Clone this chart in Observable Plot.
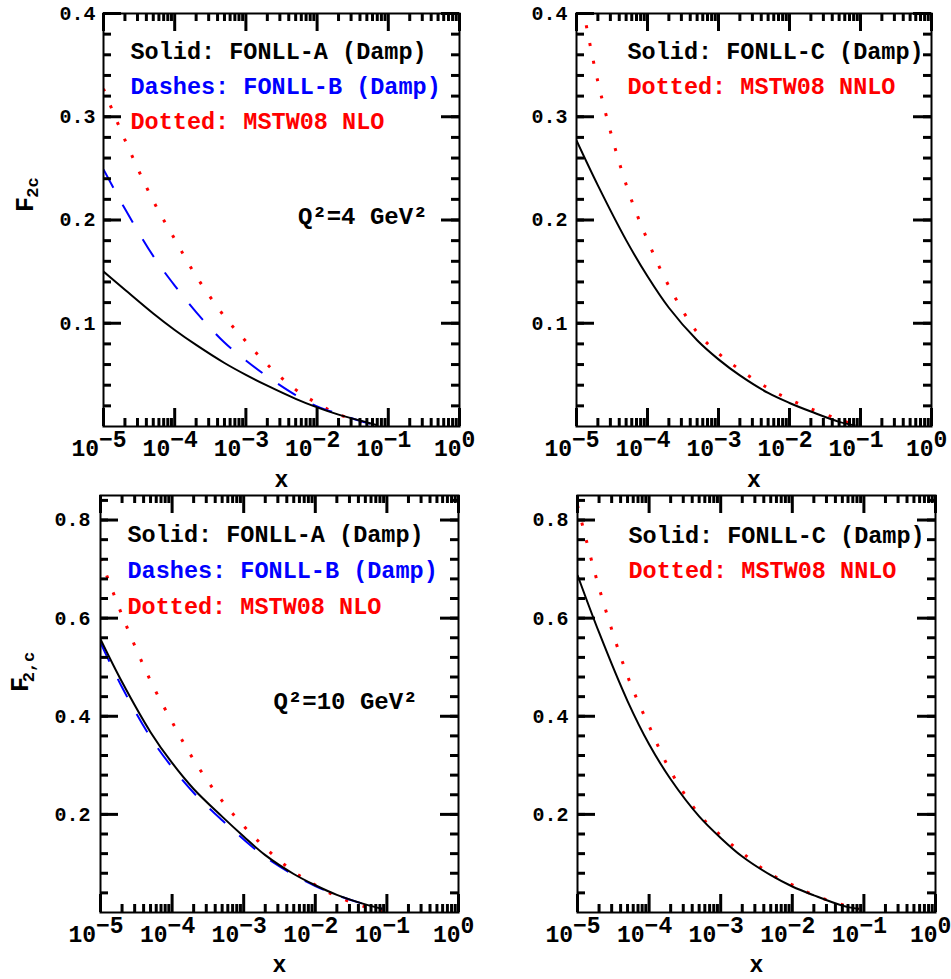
<!DOCTYPE html>
<html>
<head>
<meta charset="utf-8">
<script src="https://cdn.jsdelivr.net/npm/d3@7"></script>
<script src="https://cdn.jsdelivr.net/npm/@observablehq/plot@0.6"></script>
<style>
  body { margin: 0; background: #fff; }
  #wrap { position: relative; width: 951px; height: 979px; background: #fff; overflow: hidden; }
  #wrap > svg { position: absolute; overflow: visible; }
</style>
</head>
<body>
<div id="wrap"></div>
<script>
// ---------- axis tick values / labels ----------
const decades = [1e-5, 1e-4, 1e-3, 1e-2, 1e-1, 1];
const decadeExps = ["−5", "−4", "−3", "−2", "−1", "0"];
const yMajorQ4 = [0.1, 0.2, 0.3, 0.4];
const yLabelsQ4 = ["0.1", "0.2", "0.3", "0.4"];
const yMajorQ10 = [0.2, 0.4, 0.6, 0.8];
const yLabelsQ10 = ["0.2", "0.4", "0.6", "0.8"];

// ---------- Q^2 = 4 GeV^2, left panel ----------
const xQ4A = [1e-5, 2e-5, 5e-5, 1e-4, 2e-4, 5e-4, 1e-3, 2e-3, 5e-3, 1e-2, 2e-2, 5e-2, 0.07];
const fonllA_Q4 = [0.150, 0.1325, 0.1095, 0.0935, 0.079, 0.0615, 0.050, 0.0395, 0.0268, 0.0185, 0.0115, 0.0040, 0.0012];
const fonllB_Q4 = [0.249, 0.2108, 0.165, 0.1365, 0.1108, 0.0813, 0.064, 0.0484, 0.0304, 0.0195, 0.0122, 0.0035, 0.001];
const mstwNLO_Q4 = [0.327, 0.2776, 0.2185, 0.1815, 0.1457, 0.1065, 0.0824, 0.060, 0.0357, 0.0225, 0.0118, 0.0032, 0.001];

// ---------- Q^2 = 4 GeV^2, right panel ----------
const xQ4C = [1e-5, 2e-5, 5e-5, 1e-4, 2e-4, 5e-4, 1e-3, 2e-3, 5e-3, 1e-2, 2e-2, 5e-2, 0.085];
const fonllC_Q4 = [0.277, 0.2335, 0.1805, 0.1455, 0.115, 0.0835, 0.065, 0.0495, 0.0325, 0.0228, 0.0145, 0.0045, 0.0009];
const mstwNNLO_Q4 = [0.44, 0.334, 0.2343, 0.1805, 0.136, 0.0912, 0.0708, 0.055, 0.037, 0.0263, 0.0171, 0.0068, 0.0012];

// ---------- Q^2 = 10 GeV^2, left panel ----------
const xQ10A = [1e-5, 2e-5, 5e-5, 1e-4, 2e-4, 5e-4, 1e-3, 2e-3, 5e-3, 1e-2, 2e-2, 5e-2, 0.086];
const fonllA_Q10 = [0.557, 0.4697, 0.3676, 0.3048, 0.2518, 0.1954, 0.155, 0.117, 0.0785, 0.0555, 0.036, 0.0165, 0.0075];
const fonllB_Q10 = [0.550, 0.459, 0.357, 0.296, 0.244, 0.188, 0.149, 0.113, 0.0765, 0.054, 0.0355, 0.0163, 0.0075];
const mstwNLO_Q10 = [0.721, 0.6059, 0.4723, 0.3885, 0.3113, 0.2274, 0.1765, 0.1316, 0.083, 0.056, 0.0327, 0.0114, 0.004];

// ---------- Q^2 = 10 GeV^2, right panel ----------
const xQ10C = [1e-5, 2e-5, 5e-5, 1e-4, 2e-4, 5e-4, 1e-3, 2e-3, 5e-3, 1e-2, 2e-2, 5e-2, 0.085];
const fonllC_Q10 = [0.688, 0.5708, 0.431, 0.343, 0.2717, 0.196, 0.152, 0.114, 0.076, 0.053, 0.035, 0.014, 0.007];
const mstwNNLO_Q10 = [0.83, 0.662, 0.482, 0.38, 0.288, 0.2, 0.157, 0.1217, 0.078, 0.0565, 0.0355, 0.016, 0.0074];

// ---------- styles ----------
const FONT = "'Liberation Mono', 'DejaVu Sans Mono', monospace";
const SOLID = {color: "#000000", w: 2, dash: null};
const DASH = {color: "#0000ff", w: 2, dash: "21,19"};
const DOT = {color: "#ff0000", w: 3, dash: "3,15"};

const minorX = decades.slice(0, -1).flatMap(d => [2, 3, 4, 5, 6, 7, 8, 9].map(k => k * d));

function panel(o) {
  const fw = o.width - o.mL - o.mR;
  const fh = o.height - o.mT - o.mB;
  const [y0, y1] = o.yDomain;
  // tick lengths in pixels expressed in data units
  const yUp = px => y0 + px * (y1 - y0) / fh;
  const yDown = px => y1 - px * (y1 - y0) / fh;
  const xIn = px => 1e-5 * Math.pow(10, px * 5 / fw);
  const xOut = px => Math.pow(10, -px * 5 / fw);

  const marks = [];
  for (const s of o.series) {
    const rows = s.x.map((x, i) => ({x, y: s.y[i]}));
    marks.push(Plot.line(rows, {
      x: "x", y: "y", stroke: s.style.color, strokeWidth: s.style.w,
      strokeDasharray: s.style.dash, strokeLinecap: "butt", curve: "catmull-rom", clip: true
    }));
  }
  const tk = {stroke: "black", strokeWidth: 3};
  marks.push(Plot.ruleX(decades, {x: d => d, y1: y0, y2: yUp(18), ...tk}));
  marks.push(Plot.ruleX(decades, {x: d => d, y1: yDown(18), y2: y1, ...tk}));
  marks.push(Plot.ruleX(minorX, {x: d => d, y1: y0, y2: yUp(8), ...tk}));
  marks.push(Plot.ruleX(minorX, {x: d => d, y1: yDown(8), y2: y1, ...tk}));
  marks.push(Plot.ruleY(o.yMajor, {y: d => d, x1: 1e-5, x2: xIn(18), ...tk}));
  marks.push(Plot.ruleY(o.yMajor, {y: d => d, x1: xOut(18), x2: 1, ...tk}));
  marks.push(Plot.ruleY(o.yMinor, {y: d => d, x1: 1e-5, x2: xIn(8), ...tk}));
  marks.push(Plot.ruleY(o.yMinor, {y: d => d, x1: xOut(8), x2: 1, ...tk}));
  marks.push(Plot.frame({stroke: "black", strokeWidth: 2}));

  const txt = {fontFamily: FONT, fontWeight: "bold", fill: "#000"};
  // x tick labels 10^n
  const xt = decades.map((v, i) => ({v, e: decadeExps[i]}));
  const neg = xt.slice(0, 5), pos = xt.slice(5);
  for (const [set, dx] of [[neg, -4.5], [pos, 2]]) {
    marks.push(Plot.text(set, {x: "v", text: () => "10", frameAnchor: "bottom", textAnchor: "end",
      lineAnchor: "bottom", dy: 29, dx, fontSize: 23, ...txt}));
    marks.push(Plot.text(set, {x: "v", text: "e", frameAnchor: "bottom", textAnchor: "start",
      lineAnchor: "bottom", dy: 20, dx, fontSize: 23, ...txt}));
  }
  // y tick labels
  const yt = o.yMajor.map((v, i) => ({v, t: o.yLabels[i]}));
  marks.push(Plot.text(yt, {y: "v", text: "t", frameAnchor: "left", textAnchor: "end",
    dx: o.yLabDx, fontSize: 20, ...txt}));
  // x axis label
  marks.push(Plot.text(["x"], {text: d => d, frameAnchor: "bottom", lineAnchor: "bottom", dy: o.xLabDy,
    fontSize: 23, ...txt}));
  // legend lines
  o.legend.forEach((l, i) => {
    marks.push(Plot.text([l.text], {text: d => d, frameAnchor: "top-left", textAnchor: "start",
      lineAnchor: "bottom", dx: o.legDx, dy: o.legDy[i], fontSize: 23.5, ...txt, fill: l.color}));
  });
  // Q^2 label
  if (o.q) {
    marks.push(Plot.text([o.q.text], {text: d => d, frameAnchor: "top-right", textAnchor: "end",
      lineAnchor: "bottom", dx: o.q.dx, dy: o.q.dy, fontSize: 24, ...txt}));
  }
  // y axis label (F with subscript)
  if (o.ylab) {
    marks.push(Plot.text(["F"], {text: d => d, frameAnchor: "left", rotate: -90, textAnchor: "middle",
      lineAnchor: "bottom", dx: o.ylab.fdx, dy: o.ylab.fdy, fontSize: 25, ...txt}));
    marks.push(Plot.text([o.ylab.sub], {text: d => d, frameAnchor: "left", rotate: -90, textAnchor: "middle",
      lineAnchor: "bottom", dx: o.ylab.sdx, dy: o.ylab.sdy, fontSize: 17, ...txt}));
  }

  const svg = Plot.plot({
    width: o.width, height: o.height,
    marginLeft: o.mL, marginRight: o.mR, marginTop: o.mT, marginBottom: o.mB,
    x: {type: "log", domain: [1e-5, 1], axis: null},
    y: {domain: o.yDomain, axis: null},
    style: {fontFamily: FONT, background: "transparent", overflow: "visible"},
    marks
  });
  svg.style.left = o.left + "px";
  svg.style.top = o.top + "px";
  return svg;
}

const minorQ4 = d3.range(1, 20).map(k => k * 0.02);
const minorQ10 = d3.range(1, 22).map(k => k * 0.04);

const wrap = document.getElementById("wrap");

wrap.appendChild(panel({
  left: 0, top: 0, width: 475, height: 490, mL: 103, mR: 16, mT: 13, mB: 64,
  yDomain: [0, 0.4], yMajor: yMajorQ4, yLabels: yLabelsQ4, yMinor: minorQ4, yLabDx: -8, xLabDy: 60,
  series: [
    {x: xQ4A, y: mstwNLO_Q4, style: DOT},
    {x: xQ4A, y: fonllB_Q4, style: DASH},
    {x: xQ4A, y: fonllA_Q4, style: SOLID}
  ],
  legDx: 27, legDy: [45, 80, 115],
  legend: [
    {text: "Solid: FONLL-A (Damp)", color: "#000000"},
    {text: "Dashes: FONLL-B (Damp)", color: "#0000ff"},
    {text: "Dotted: MSTW08 NLO", color: "#ff0000"}
  ],
  q: {text: "Q²=4 GeV²", dx: -32, dy: 210},
  ylab: {sub: "2c", fdx: -71, fdy: -15.5, sdx: -66, sdy: -32.5}
}));

wrap.appendChild(panel({
  left: 475, top: 0, width: 476, height: 490, mL: 101, mR: 20, mT: 13, mB: 64,
  yDomain: [0, 0.4], yMajor: yMajorQ4, yLabels: yLabelsQ4, yMinor: minorQ4, yLabDx: -9, xLabDy: 60,
  series: [
    {x: xQ4C, y: mstwNNLO_Q4, style: DOT},
    {x: xQ4C, y: fonllC_Q4, style: SOLID}
  ],
  legDx: 51, legDy: [45, 80],
  legend: [
    {text: "Solid: FONLL-C (Damp)", color: "#000000"},
    {text: "Dotted: MSTW08 NNLO", color: "#ff0000"}
  ]
}));

wrap.appendChild(panel({
  left: 0, top: 482, width: 475, height: 497, mL: 100, mR: 17, mT: 13, mB: 67,
  yDomain: [0, 0.85], yMajor: yMajorQ10, yLabels: yLabelsQ10, yMinor: minorQ10, yLabDx: -10, xLabDy: 59,
  series: [
    {x: xQ10A, y: mstwNLO_Q10, style: DOT},
    {x: xQ10A, y: fonllB_Q10, style: DASH},
    {x: xQ10A, y: fonllA_Q10, style: SOLID}
  ],
  legDx: 27, legDy: [46, 82, 118],
  legend: [
    {text: "Solid: FONLL-A (Damp)", color: "#000000"},
    {text: "Dashes: FONLL-B (Damp)", color: "#0000ff"},
    {text: "Dotted: MSTW08 NLO", color: "#ff0000"}
  ],
  q: {text: "Q²=10 GeV²", dx: -41, dy: 213},
  ylab: {sub: "2,c", fdx: -73, fdy: -19.5, sdx: -67, sdy: -37}
}));

wrap.appendChild(panel({
  left: 475, top: 482, width: 476, height: 497, mL: 102, mR: 16, mT: 13, mB: 67,
  yDomain: [0, 0.85], yMajor: yMajorQ10, yLabels: yLabelsQ10, yMinor: minorQ10, yLabDx: -9, xLabDy: 59,
  series: [
    {x: xQ10C, y: mstwNNLO_Q10, style: DOT},
    {x: xQ10C, y: fonllC_Q10, style: SOLID}
  ],
  legDx: 51, legDy: [47, 82],
  legend: [
    {text: "Solid: FONLL-C (Damp)", color: "#000000"},
    {text: "Dotted: MSTW08 NNLO", color: "#ff0000"}
  ]
}));
</script>
</body>
</html>
